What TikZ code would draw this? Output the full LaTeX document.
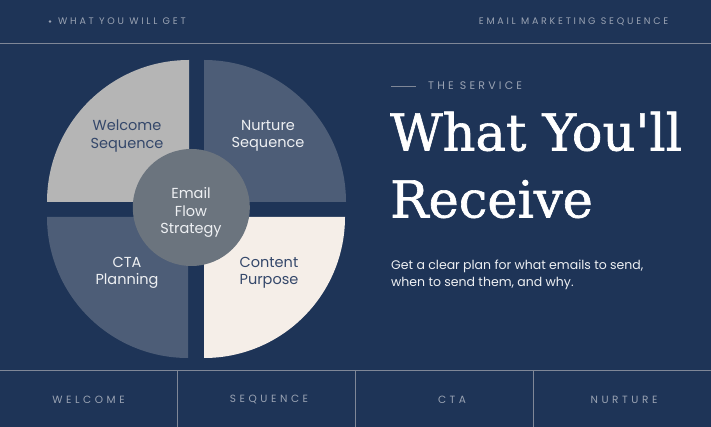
\documentclass[tikz,border=0pt]{standalone}
\usepackage{fontspec}
\setmainfont{Poppins}
\newfontfamily\spaced[LetterSpace=29]{Poppins}
\newfontfamily\spacedb[LetterSpace=34]{Poppins}
\newfontfamily\titlefont[FakeBold=1.2]{DejaVu Serif}
\definecolor{bg}{HTML}{1E3457}
\definecolor{lbl}{HTML}{9AA3B3}
\definecolor{rule}{HTML}{7F8797}
\definecolor{qgray}{HTML}{B5B5B5}
\definecolor{qslate}{HTML}{4D5D77}
\definecolor{qcream}{HTML}{F5EEE8}
\definecolor{qcenter}{HTML}{6B747E}
\definecolor{darktxt}{HTML}{34476A}
\definecolor{lighttxt}{HTML}{EEF0F3}
\tikzset{
  toplabel/.style={font=\spaced\fontsize{9.5}{11}\selectfont, text=lbl, inner sep=0pt},
  botlabel/.style={font=\spacedb\fontsize{10.5}{12}\selectfont, text=lbl, inner sep=0pt},
  quadtext/.style={font=\fontsize{14.5}{17.5}\selectfont, align=center, inner sep=0pt},
  divline/.style={draw=rule, line width=0.9pt},
}
\begin{document}
\begin{tikzpicture}[x=1pt,y=-1pt]
\fill[bg] (0,0) rectangle (711,427);
\useasboundingbox (0,0) rectangle (711,427);
% top bar
\fill[lbl] (50,21.5) circle (1.3);
\node[toplabel, anchor=west] (tl) at (58,21.5) {WHAT YOU WILL GET};
\node[toplabel, anchor=east] (tr) at (668.5,21.5) {EMAIL MARKETING SEQUENCE};
\coordinate (t1) at (0,43);
\coordinate (t2) at (711,43);
\draw[divline] (t1) -- (t2);
% quadrants
\fill[qgray] (189,202) -- (47,202) arc[start angle=180, end angle=270, radius=142] -- cycle;
\fill[qslate] (204,202) -- (204,60) arc[start angle=270, end angle=360, radius=142] -- cycle;
\fill[qslate] (188,217) -- (188,358) arc[start angle=90, end angle=180, radius=141] -- cycle;
\fill[qcream] (204,217) -- (345,217) arc[start angle=0, end angle=90, radius=141] -- cycle;
\node[circle, fill=qcenter, minimum size=117pt, inner sep=0pt] (c) at (191.3,207.5) {};
\node[quadtext, text=darktxt] (q1) at (127,136) {Welcome\\Sequence};
\node[quadtext, text=lighttxt] (q2) at (268,136) {Nurture\\Sequence};
\node[quadtext, text=lighttxt] (q3) at (127,273) {CTA\\Planning};
\node[quadtext, text=darktxt] (q4) at (269,273) {Content\\Purpose};
\node[quadtext, text=lighttxt] (q5) at (191,212.5) {Email\\Flow\\Strategy};
% right side
\coordinate (s1) at (391,86);
\coordinate (s2) at (416,86);
\draw[draw=rule, line width=0.8pt] (s1) -- (s2);
\node[font=\spaced\fontsize{11}{13}\selectfont, text=lbl, anchor=west, inner sep=0pt] (svc) at (428,86) {THE SERVICE};
\node[font=\titlefont\fontsize{51}{56}\selectfont, text=white, anchor=base west, inner sep=0pt] (h1) at (390,150.5) {What You'll};
\node[font=\titlefont\fontsize{51}{56}\selectfont, text=white, anchor=base west, inner sep=0pt] (h2) at (390,217.5) {Receive};
\node[font=\fontsize{12.5}{16.5}\selectfont, text=lighttxt, anchor=north west, align=left, inner sep=0pt] (p) at (391,260) {Get a clear plan for what emails to send,\\when to send them, and why.};
% bottom bar
\coordinate (b1) at (0,370);
\coordinate (b2) at (711,370);
\draw[divline] (b1) -- (b2);
\foreach \x/\n in {177/d1,355/d2,533/d3}{
  \coordinate (\n a) at (\x,370);
  \coordinate (\n b) at (\x,427);
  \draw[divline] (\n a) -- (\n b);
}
\node[botlabel] (w) at (88.5,399.5) {WELCOME};
\node[botlabel] (s) at (269,399.5) {SEQUENCE};
\node[botlabel] (cta) at (452,399.5) {CTA};
\node[botlabel] (n) at (624,399.5) {NURTURE};
\end{tikzpicture}
\end{document}
